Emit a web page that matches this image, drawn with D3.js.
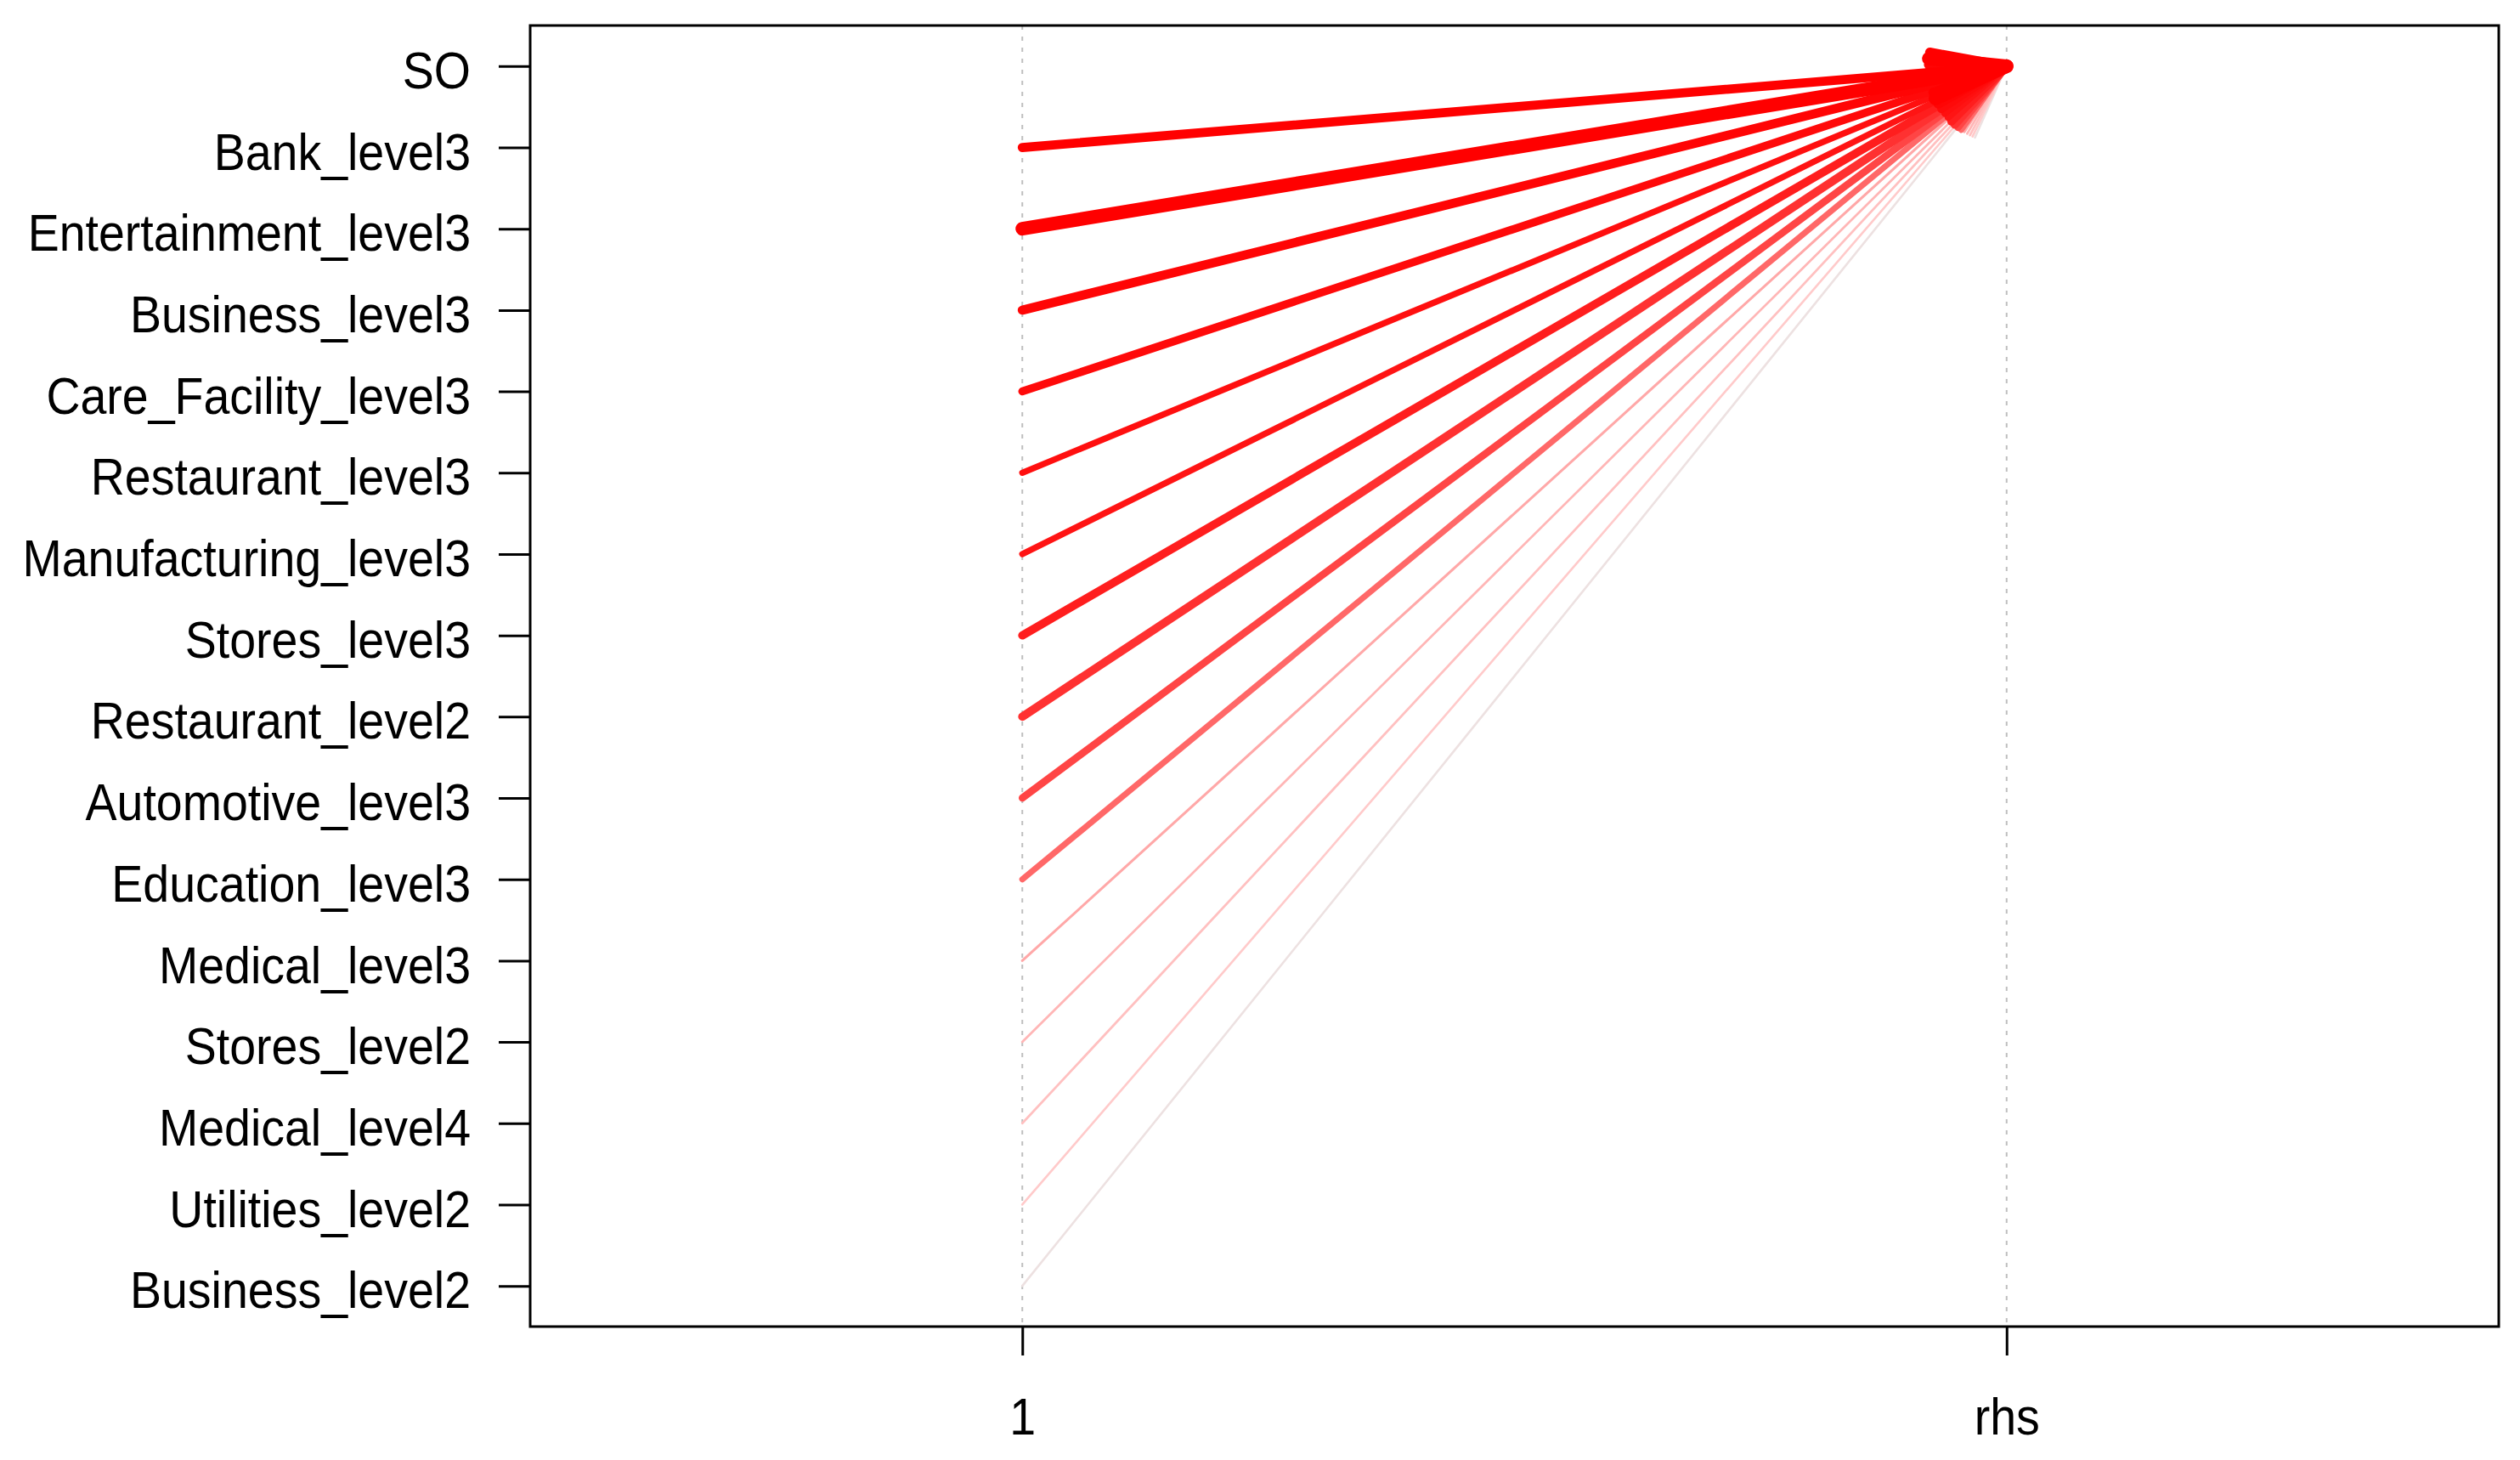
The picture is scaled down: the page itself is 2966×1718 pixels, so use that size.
<!DOCTYPE html>
<html>
<head>
<meta charset="utf-8">
<script src="https://cdn.jsdelivr.net/npm/d3@7"></script>
<style>
  body { margin: 0; background: #fff; }
  svg text { font-family: "Liberation Sans", Arial, sans-serif; fill: #000; }
</style>
</head>
<body>
<svg id="chart"></svg>
<script>
// items on the vertical axis, top to bottom
const items = ["SO", "Bank_level3", "Entertainment_level3", "Business_level3",
    "Care_Facility_level3", "Restaurant_level3", "Manufacturing_level3",
    "Stores_level3", "Restaurant_level2", "Automotive_level3", "Education_level3",
    "Medical_level3", "Stores_level2", "Medical_level4", "Utilities_level2",
    "Business_level2"];
const positions = ["1", "rhs"];
const rhsItem = "SO";

// rules: lhs item -> SO (estimated from line width / shading)
const lhsItems = items.slice(1);
const support = [0.065, 0.100, 0.065, 0.056, 0.042, 0.042, 0.058, 0.058,
    0.050, 0.040, 0.013, 0.011, 0.011, 0.010, 0.010];
const confidence = [0.97, 0.97, 0.96, 0.95, 0.94, 0.93, 0.91, 0.87,
    0.83, 0.76, 0.63, 0.60, 0.58, 0.56, 0.42];

const width = 2966, height = 1718;
const box = {left: 624, right: 2941, top: 30, bottom: 1561};

const svg = d3.select("#chart")
    .attr("width", width)
    .attr("height", height);

svg.append("rect")
    .attr("width", width).attr("height", height)
    .attr("fill", "#fff");

//scales
const x = d3.scalePoint().domain(positions).range([box.left, box.right]).padding(0.5);
const y = d3.scalePoint().domain(items).range([box.top, box.bottom]).padding(0.5);
const lw = d3.scaleLinear().domain([0.01, 0.10]).range([2.6, 16]);
const col = d3.scaleLinear()
    .domain([0.40, 0.55, 0.97])
    .range(["#EAE4E4", "#FFCFCF", "#FF0000"])
    .clamp(true);

// dotted verticals at each position
svg.append("g").selectAll("line")
    .data(positions)
    .join("line")
    .attr("x1", d => x(d)).attr("x2", d => x(d))
    .attr("y1", box.top).attr("y2", box.bottom)
    .attr("stroke", "#bebebe")
    .attr("stroke-width", 2)
    .attr("stroke-dasharray", "5,8");

// rules, weakest first so the strong ones sit on top
const rules = lhsItems.map((d, i) => ({lhs: d, support: support[i], confidence: confidence[i]}))
    .sort((a, b) => a.confidence - b.confidence);

const headLen = 92, headAngle = 15 * Math.PI / 180;

const g = svg.append("g")
    .attr("fill", "none")
    .attr("stroke-linecap", "round")
    .attr("stroke-linejoin", "round");

rules.forEach(r => {
    const x1 = x("1"), y1 = y(r.lhs);
    const x2 = x("rhs"), y2 = y(rhsItem);
    g.append("line")
        .attr("x1", x1).attr("y1", y1)
        .attr("x2", x2).attr("y2", y2)
        .attr("stroke", col(r.confidence))
        .attr("stroke-width", lw(r.support));

    // arrow head
    const a = Math.atan2(y1 - y2, x1 - x2);
    const p = d3.path();
    p.moveTo(x2 + headLen * Math.cos(a + headAngle), y2 + headLen * Math.sin(a + headAngle));
    p.lineTo(x2, y2);
    p.lineTo(x2 + headLen * Math.cos(a - headAngle), y2 + headLen * Math.sin(a - headAngle));
    g.append("path")
        .attr("d", p.toString())
        .attr("stroke", col(r.confidence))
        .attr("stroke-width", lw(r.support));
});

// box
svg.append("rect")
    .attr("x", box.left).attr("y", box.top)
    .attr("width", box.right - box.left).attr("height", box.bottom - box.top)
    .attr("fill", "none")
    .attr("stroke", "#000")
    .attr("stroke-width", 3);

// y axis
const yAxis = svg.append("g")
    .attr("transform", "translate(" + box.left + ",0)")
    .call(d3.axisLeft(y).tickSize(37).tickPadding(33));
yAxis.select(".domain").remove();
yAxis.selectAll(".tick line").attr("stroke", "#000").attr("stroke-width", 3);
yAxis.selectAll(".tick text")
    .attr("font-size", 61)
    .attr("font-family", "Liberation Sans, Arial, sans-serif")
    .attr("dy", "0.42em")
    .attr("transform", function() {
        const tx = +d3.select(this).attr("x");
        return "translate(" + tx + ",0) scale(0.91,1)";
    })
    .attr("x", 0);

// x axis
const xAxis = svg.append("g")
    .attr("transform", "translate(0," + box.bottom + ")")
    .call(d3.axisBottom(x).tickSize(34).tickPadding(0));
xAxis.select(".domain").remove();
xAxis.selectAll(".tick line").attr("stroke", "#000").attr("stroke-width", 3);
xAxis.selectAll(".tick text")
    .attr("font-size", 61)
    .attr("font-family", "Liberation Sans, Arial, sans-serif")
    .attr("dy", null)
    .attr("y", 0)
    .attr("transform", "translate(0,127) scale(0.91,1)");
</script>
</body>
</html>
